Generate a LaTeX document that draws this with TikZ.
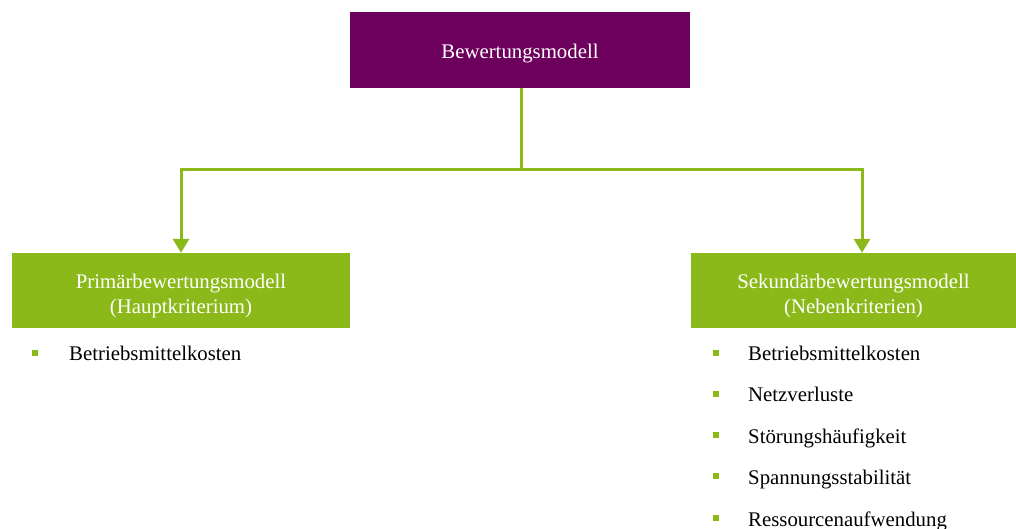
\documentclass[tikz,border=0pt]{standalone}
\usepackage{fontspec}
\setmainfont{Liberation Serif}
\usepackage{tikz}
\usetikzlibrary{arrows.meta, positioning}
\definecolor{kopf}{RGB}{108,0,92}
\definecolor{gruen}{RGB}{140,185,26}

\begin{document}
\begin{tikzpicture}[x=1pt, y=-1pt,
    box/.style={rectangle, text=white, align=center, inner sep=0pt,
        font=\fontsize{20.8}{24}\selectfont},
    verbinder/.style={draw=gruen, line width=3pt},
    punkt/.style={rectangle, fill=gruen, minimum size=6pt, inner sep=0pt},
    eintrag/.style={anchor=base west, inner sep=0pt, font=\fontsize{20.8}{24}\selectfont}]
    \useasboundingbox (0,0) rectangle (1016,529);
    \node[box, fill=kopf, minimum width=340pt, minimum height=76pt] (modell) at (520,50) {\rule{0pt}{21pt}Bewertungsmodell};
    \node[box, fill=gruen, minimum width=338pt, minimum height=75pt] (primaer) at (181,290.5) {
        \rule{0pt}{25pt}Primärbewertungsmodell \\[0.5pt]
        (Hauptkriterium)
    };
    \node[box, fill=gruen, minimum width=325pt, minimum height=75pt] (sekundaer) at (853.5,290.5) {
        \rule{0pt}{25pt}Sekundärbewertungsmodell \\[0.5pt]
        (Nebenkriterien)
    };

    \coordinate (knoten) at (521,170);
    \draw[verbinder] (modell.south -| knoten) -- (knoten);
    \draw[verbinder, -{Triangle[width=16pt, length=14pt]}] (knoten) -| (primaer.north);
    \draw[verbinder, -{Triangle[width=16pt, length=14pt]}] (knoten) -| ([xshift=8.5pt]sekundaer.north);

    \node[punkt] (p0) at (35,353) {};
    \node[eintrag] (e0) at (69,360) {Betriebsmittelkosten};
    \foreach \text [count=\i] in {Betriebsmittelkosten, Netzverluste, Störungshäufigkeit,
        Spannungsstabilität, Ressourcenaufwendung} {
        \node[punkt] (q\i) at (716,352.7+41.2*\i-41.2) {};
        \node[eintrag] (f\i) at (748,360+41.5*\i-41.5) {\text};
    }
\end{tikzpicture}
\end{document}
